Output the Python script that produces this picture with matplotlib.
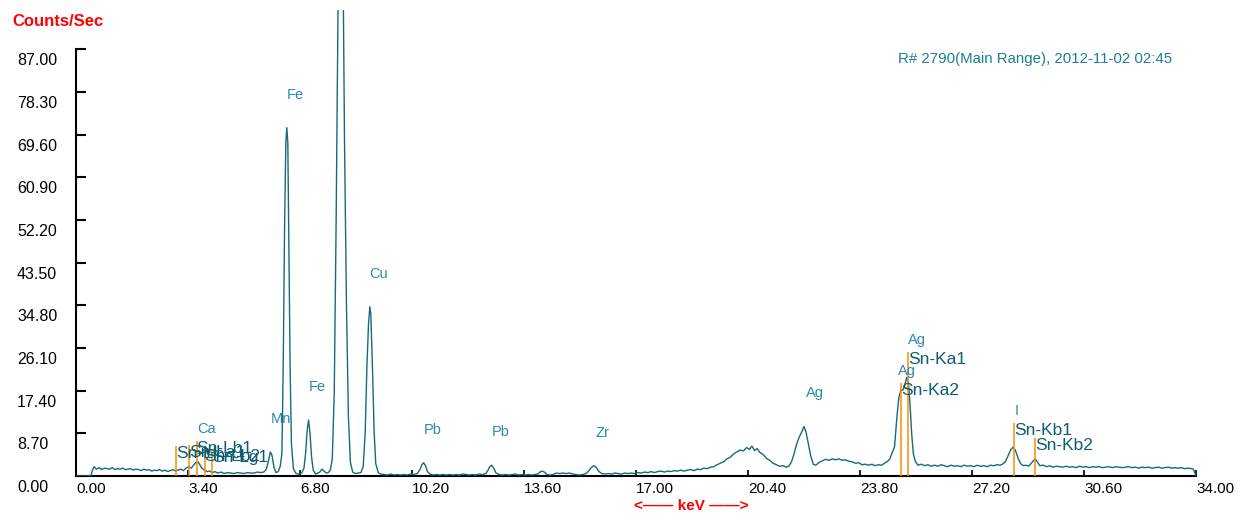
import numpy as np
import matplotlib
matplotlib.use("Agg")
import matplotlib.pyplot as plt
from matplotlib.transforms import ScaledTranslation

# ---------------------------------------------------------------------------
# Spectrum (keV, counts/sec), split by region
# ---------------------------------------------------------------------------
low_e = [0.00, 0.45, 0.50, 0.55, 0.62, 0.70, 0.78, 0.86, 0.94, 1.02, 1.10, 1.18,
         1.26, 1.34, 1.42, 1.50, 1.58, 1.66, 1.74, 1.82, 1.90, 1.98, 2.06, 2.14,
         2.22, 2.30, 2.38, 2.46, 2.54, 2.62, 2.70, 2.78, 2.86, 2.94, 3.02, 3.10,
         3.18, 3.26, 3.34, 3.42, 3.50, 3.58, 3.64, 3.70, 3.76, 3.82, 3.90, 3.98,
         4.06, 4.14, 4.22, 4.30, 4.40, 4.50, 4.60, 4.70, 4.80, 4.90, 5.00, 5.10,
         5.20, 5.30, 5.40, 5.50, 5.60]
low_c = [0.0, 0.0, 1.2, 1.9, 1.4, 1.7, 1.3, 1.6, 1.5, 1.4, 1.7, 1.3,
         1.5, 1.4, 1.6, 1.3, 1.4, 1.5, 1.2, 1.4, 1.3, 1.1, 1.4, 1.2,
         1.3, 1.0, 1.2, 1.1, 1.3, 1.0, 1.2, 0.9, 1.1, 1.3, 1.0, 1.2,
         1.4, 1.1, 1.6, 1.9, 1.6, 2.3, 2.8, 2.9, 2.3, 1.6, 1.2, 0.9,
         1.0, 0.7, 0.9, 0.6, 0.8, 0.5, 0.7, 0.6, 0.5, 0.7, 0.6, 0.5,
         0.7, 0.6, 0.6, 0.8, 0.7]

trans_e = [5.70, 5.78, 5.84, 5.90, 5.95, 6.01, 6.07, 6.14, 6.20, 6.25, 6.29, 6.33,
           6.37, 6.40, 6.43, 6.46, 6.50, 6.54, 6.60, 6.68, 6.76, 6.85, 6.92, 6.97,
           7.02, 7.06, 7.10, 7.15, 7.20, 7.27, 7.34, 7.40, 7.47, 7.53, 7.60, 7.66,
           7.72, 7.78, 7.84, 7.90, 7.96, 8.01, 8.05, 8.10, 8.15, 8.21, 8.27, 8.33,
           8.40, 8.48, 8.56, 8.65, 8.72, 8.78, 8.83, 8.88, 8.92, 8.95, 9.00, 9.05,
           9.10, 9.18, 9.26]
trans_c = [0.8, 1.4, 3.0, 4.9, 4.2, 1.8, 0.7, 0.9, 2.0, 4.5, 22.0, 50.0,
           68.0, 71.0, 68.0, 48.0, 22.0, 6.5, 1.5, 0.5, 0.4, 0.6, 1.6, 4.6,
           9.5, 11.4, 9.0, 4.0, 1.2, 0.4, 0.6, 0.8, 1.4, 1.0, 0.6, 0.7,
           1.2, 3.5, 17.0, 54.0, 100.0, 128.0, 132.0, 110.0, 69.0, 35.0, 12.0, 2.8,
           0.8, 0.5, 0.6, 0.7, 2.0, 9.0, 22.0, 31.0, 34.5, 33.0, 22.0, 9.0,
           2.5, 0.6, 0.4]

mid_e = [9.36, 9.46, 9.56, 9.66, 9.76, 9.86, 9.96, 10.06, 10.16, 10.26, 10.36, 10.44,
         10.50, 10.55, 10.61, 10.67, 10.74, 10.84, 10.94, 11.04, 11.14, 11.24, 11.34, 11.44,
         11.54, 11.64, 11.74, 11.84, 11.94, 12.04, 12.14, 12.24, 12.34, 12.44, 12.51, 12.56,
         12.62, 12.68, 12.75, 12.84, 12.94, 13.04, 13.14, 13.24, 13.34, 13.44, 13.54, 13.64,
         13.74, 13.84, 13.94, 14.02, 14.08, 14.15, 14.22, 14.29, 14.38, 14.48, 14.58, 14.68,
         14.78, 14.88, 14.98, 15.08, 15.18, 15.28, 15.38, 15.48, 15.56, 15.64, 15.72, 15.80,
         15.88, 15.96, 16.06, 16.16, 16.26, 16.36, 16.46, 16.56, 16.66, 16.76, 16.86, 16.96]
mid_c = [0.3, 0.2, 0.4, 0.2, 0.3, 0.2, 0.3, 0.2, 0.4, 0.3, 0.5, 1.3,
         2.3, 2.7, 2.1, 0.9, 0.4, 0.2, 0.3, 0.2, 0.3, 0.2, 0.3, 0.2,
         0.3, 0.2, 0.4, 0.3, 0.2, 0.3, 0.2, 0.4, 0.3, 0.5, 1.2, 1.9,
         2.2, 1.6, 0.6, 0.3, 0.2, 0.3, 0.2, 0.3, 0.4, 0.2, 0.3, 0.2,
         0.3, 0.2, 0.3, 0.4, 0.8, 1.0, 0.8, 0.3, 0.2, 0.3, 0.6, 0.5,
         0.6, 0.5, 0.6, 0.4, 0.3, 0.2, 0.3, 0.5, 1.0, 1.7, 2.1, 1.7,
         0.9, 0.5, 0.4, 0.5, 0.4, 0.6, 0.5, 0.4, 0.6, 0.5, 0.6, 0.5]

scatter_e = [17.06, 17.16, 17.26, 17.36, 17.46, 17.56, 17.66, 17.76, 17.86, 17.96, 18.06, 18.16,
             18.26, 18.36, 18.46, 18.56, 18.66, 18.76, 18.86, 18.96, 19.06, 19.16, 19.26, 19.36,
             19.46, 19.56, 19.66, 19.76, 19.86, 19.96, 20.06, 20.16, 20.26, 20.36, 20.44, 20.52,
             20.60, 20.68, 20.76, 20.86, 20.96, 21.06, 21.16, 21.26, 21.36, 21.46, 21.56, 21.64,
             21.72, 21.80, 21.88, 21.96, 22.04, 22.10, 22.16, 22.22, 22.30, 22.38, 22.46]
scatter_c = [0.7, 0.6, 0.8, 0.7, 0.9, 0.7, 0.9, 1.0, 0.8, 1.0, 0.9, 1.1,
             1.0, 1.2, 1.0, 1.2, 1.3, 1.1, 1.4, 1.3, 1.6, 1.5, 1.8, 1.9,
             2.3, 2.6, 2.9, 3.5, 3.8, 4.5, 4.9, 5.3, 5.1, 5.8, 5.4, 6.1,
             5.2, 5.6, 4.8, 4.4, 3.6, 3.2, 2.6, 2.3, 2.0, 2.1, 1.8, 2.0,
             2.9, 4.6, 6.6, 8.0, 9.1, 10.1, 9.0, 7.0, 4.2, 2.4, 2.2]

snk_e = [22.56, 22.66, 22.76, 22.86, 22.96, 23.06, 23.16, 23.26, 23.36, 23.46, 23.56, 23.66,
         23.76, 23.86, 23.96, 24.06, 24.16, 24.26, 24.36, 24.46, 24.54, 24.62, 24.70, 24.78,
         24.85, 24.92, 24.98, 25.04, 25.10, 25.16, 25.22, 25.27, 25.32, 25.37, 25.42, 25.48,
         25.56, 25.66, 25.76, 25.86, 25.96, 26.06, 26.16, 26.26, 26.36, 26.46, 26.56, 26.66,
         26.76, 26.86, 26.96, 27.06, 27.16, 27.26, 27.36, 27.46, 27.56, 27.66, 27.76, 27.86,
         27.96]
snk_c = [2.8, 3.1, 3.4, 3.2, 3.5, 3.3, 3.5, 3.2, 3.3, 3.0, 2.9, 2.6,
         2.7, 2.3, 2.4, 2.2, 2.4, 2.1, 2.3, 2.2, 2.6, 2.9, 3.4, 4.8,
         6.0, 12.0, 16.0, 17.5, 17.5, 18.6, 20.1, 19.0, 14.5, 8.5, 4.5, 3.0,
         2.2, 2.4, 2.1, 2.3, 2.0, 2.2, 2.0, 2.3, 2.1, 1.9, 2.2, 2.0,
         2.1, 1.9, 2.2, 2.0, 2.1, 1.9, 2.2, 2.0, 2.1, 1.9, 2.2, 2.1,
         2.3]

high_e = [28.06, 28.14, 28.22, 28.30, 28.38, 28.45, 28.52, 28.60, 28.68, 28.76, 28.84, 28.92,
          29.00, 29.06, 29.12, 29.18, 29.26, 29.36, 29.46, 29.56, 29.66, 29.76, 29.86, 29.96,
          30.06, 30.16, 30.26, 30.36, 30.46, 30.56, 30.66, 30.76, 30.86, 30.96, 31.06, 31.16,
          31.26, 31.36, 31.46, 31.56, 31.66, 31.76, 31.86, 31.96, 32.06, 32.16, 32.26, 32.36,
          32.46, 32.56, 32.66, 32.76, 32.86, 32.96, 33.06, 33.16, 33.26, 33.36, 33.46, 33.56,
          33.66, 33.76, 33.86, 33.92, 34.00]
high_c = [2.2, 2.5, 3.0, 4.2, 5.4, 5.9, 5.2, 3.6, 2.5, 2.1, 2.2, 2.0,
          2.6, 3.1, 3.5, 2.9, 2.1, 2.2, 1.9, 2.1, 1.8, 2.0, 1.9, 1.8,
          2.0, 1.8, 1.9, 1.7, 2.0, 1.8, 1.9, 1.7, 1.9, 1.8, 1.9, 1.7,
          1.8, 1.9, 1.7, 1.9, 1.8, 1.7, 1.8, 1.9, 1.7, 1.8, 1.6, 1.8,
          1.7, 1.8, 1.6, 1.7, 1.8, 1.6, 1.7, 1.8, 1.6, 1.7, 1.6, 1.7,
          1.5, 1.6, 1.5, 1.4, 0.0]

# Sn marker lines (energy keV, marker height)
sn_names = ["Sn-Ll", "Sn-La1", "Sn-Lb1", "Sn-Lb2", "Sn-Lg1",
            "Sn-Ka2", "Sn-Ka1", "Sn-Kb1", "Sn-Kb2"]
sn_energy = [3.045, 3.444, 3.663, 3.905, 4.131, 25.044, 25.271, 28.486, 29.109]
sn_height = [6.1, 6.3, 7.1, 5.5, 5.3, 19.0, 25.3, 10.8, 7.7]

# element peak labels
elem_names = ["Ca", "Mn", "Fe", "Fe", "Cu", "Pb", "Pb", "Zr", "Ag", "Ag", "Ag", "I"]
elem_energy = [3.69, 5.90, 6.40, 7.06, 8.90, 10.55, 12.61, 15.77, 22.16, 24.96, 25.26, 28.48]

x_ticks = [0.0, 3.4, 6.8, 10.2, 13.6, 17.0, 20.4, 23.8, 27.2, 30.6, 34.0]
y_ticks = [0.0, 8.7, 17.4, 26.1, 34.8, 43.5, 52.2, 60.9, 69.6, 78.3, 87.0]

title = "R# 2790(Main Range), 2012-11-02 02:45"

energy = np.array(low_e + trans_e + mid_e + scatter_e + snk_e + high_e)
counts = np.array(low_c + trans_c + mid_c + scatter_c + snk_c + high_c)

LINE = "#17697c"
LABEL = "#2b8aac"
SN_LABEL = "#0b5d72"
ORANGE = "#ff8a00"

plt.rcParams["font.family"] = ["Liberation Sans", "DejaVu Sans"]

fig = plt.figure(figsize=(12.48, 5.22), dpi=100)
ax = fig.add_axes([76 / 1248, 46 / 522, 1120 / 1248, 466 / 522])

ax.plot(energy, counts, color=LINE, lw=1.0, zorder=3)
ax.vlines(sn_energy, 0, sn_height, color=ORANGE, lw=1.1, zorder=4)

ax.set_xlim(0, 34)
ax.set_ylim(0, 95)

for side in ("top", "right"):
    ax.spines[side].set_visible(False)
for side in ("left", "bottom"):
    ax.spines[side].set_linewidth(1.5)
ax.spines["left"].set_bounds(0, 87)

ax.set_xticks(x_ticks)
ax.set_xticklabels([f"{v:.2f}" for v in x_ticks], ha="left", fontsize=11)
ax.set_yticks(y_ticks)
ax.set_yticklabels([f"{v:.2f}" for v in y_ticks], ha="left", fontsize=11.5)
ax.tick_params(axis="x", direction="in", length=4, width=1.2, pad=4.5)
ax.tick_params(axis="y", direction="in", length=7.5, width=1.5, pad=42.5)
shift = ScaledTranslation(0, -0.10, fig.dpi_scale_trans)
for lab in ax.get_yticklabels():
    lab.set_transform(lab.get_transform() + shift)

ax.set_xlabel("<\u2014\u2014 keV \u2014\u2014>", color="red", fontweight="bold", fontsize=11)
ax.xaxis.set_label_coords((691.5 - 76) / 1120, -30 / 466)
ax.xaxis.label.set_va("center")

fig.text(12 / 1248, 1 - 21 / 522, "Counts/Sec", color="red", fontweight="bold",
         fontsize=12, ha="left", va="center")
ax.text((1172 - 76) / 1120, (476 - 59) / 466, title, transform=ax.transAxes,
        color="#1f7d9c", fontsize=10.8, ha="right", va="center")

# Sn marker labels, hanging from the top of each marker
for name, e, h in zip(sn_names, sn_energy, sn_height):
    ax.annotate(name, (e, h), xytext=(0, 0), textcoords="offset points",
                ha="left", va="top", fontsize=12.5, color=SN_LABEL, zorder=5,
                annotation_clip=False)

# element labels sit above the peak, or above a Sn marker when one is close
for name, e in zip(elem_names, elem_energy):
    near = [h for se, h in zip(sn_energy, sn_height) if abs(se - e) < 0.1]
    if near:
        y, dy = near[0], 5.8
    else:
        y, dy = counts[np.abs(energy - e) <= 0.1].max(), 21
    ax.annotate(name, (e, y), xytext=(0, dy), textcoords="offset points",
                ha="left", va="baseline", fontsize=10.5, color=LABEL, zorder=5)

fig.savefig("out.png", dpi=100)
